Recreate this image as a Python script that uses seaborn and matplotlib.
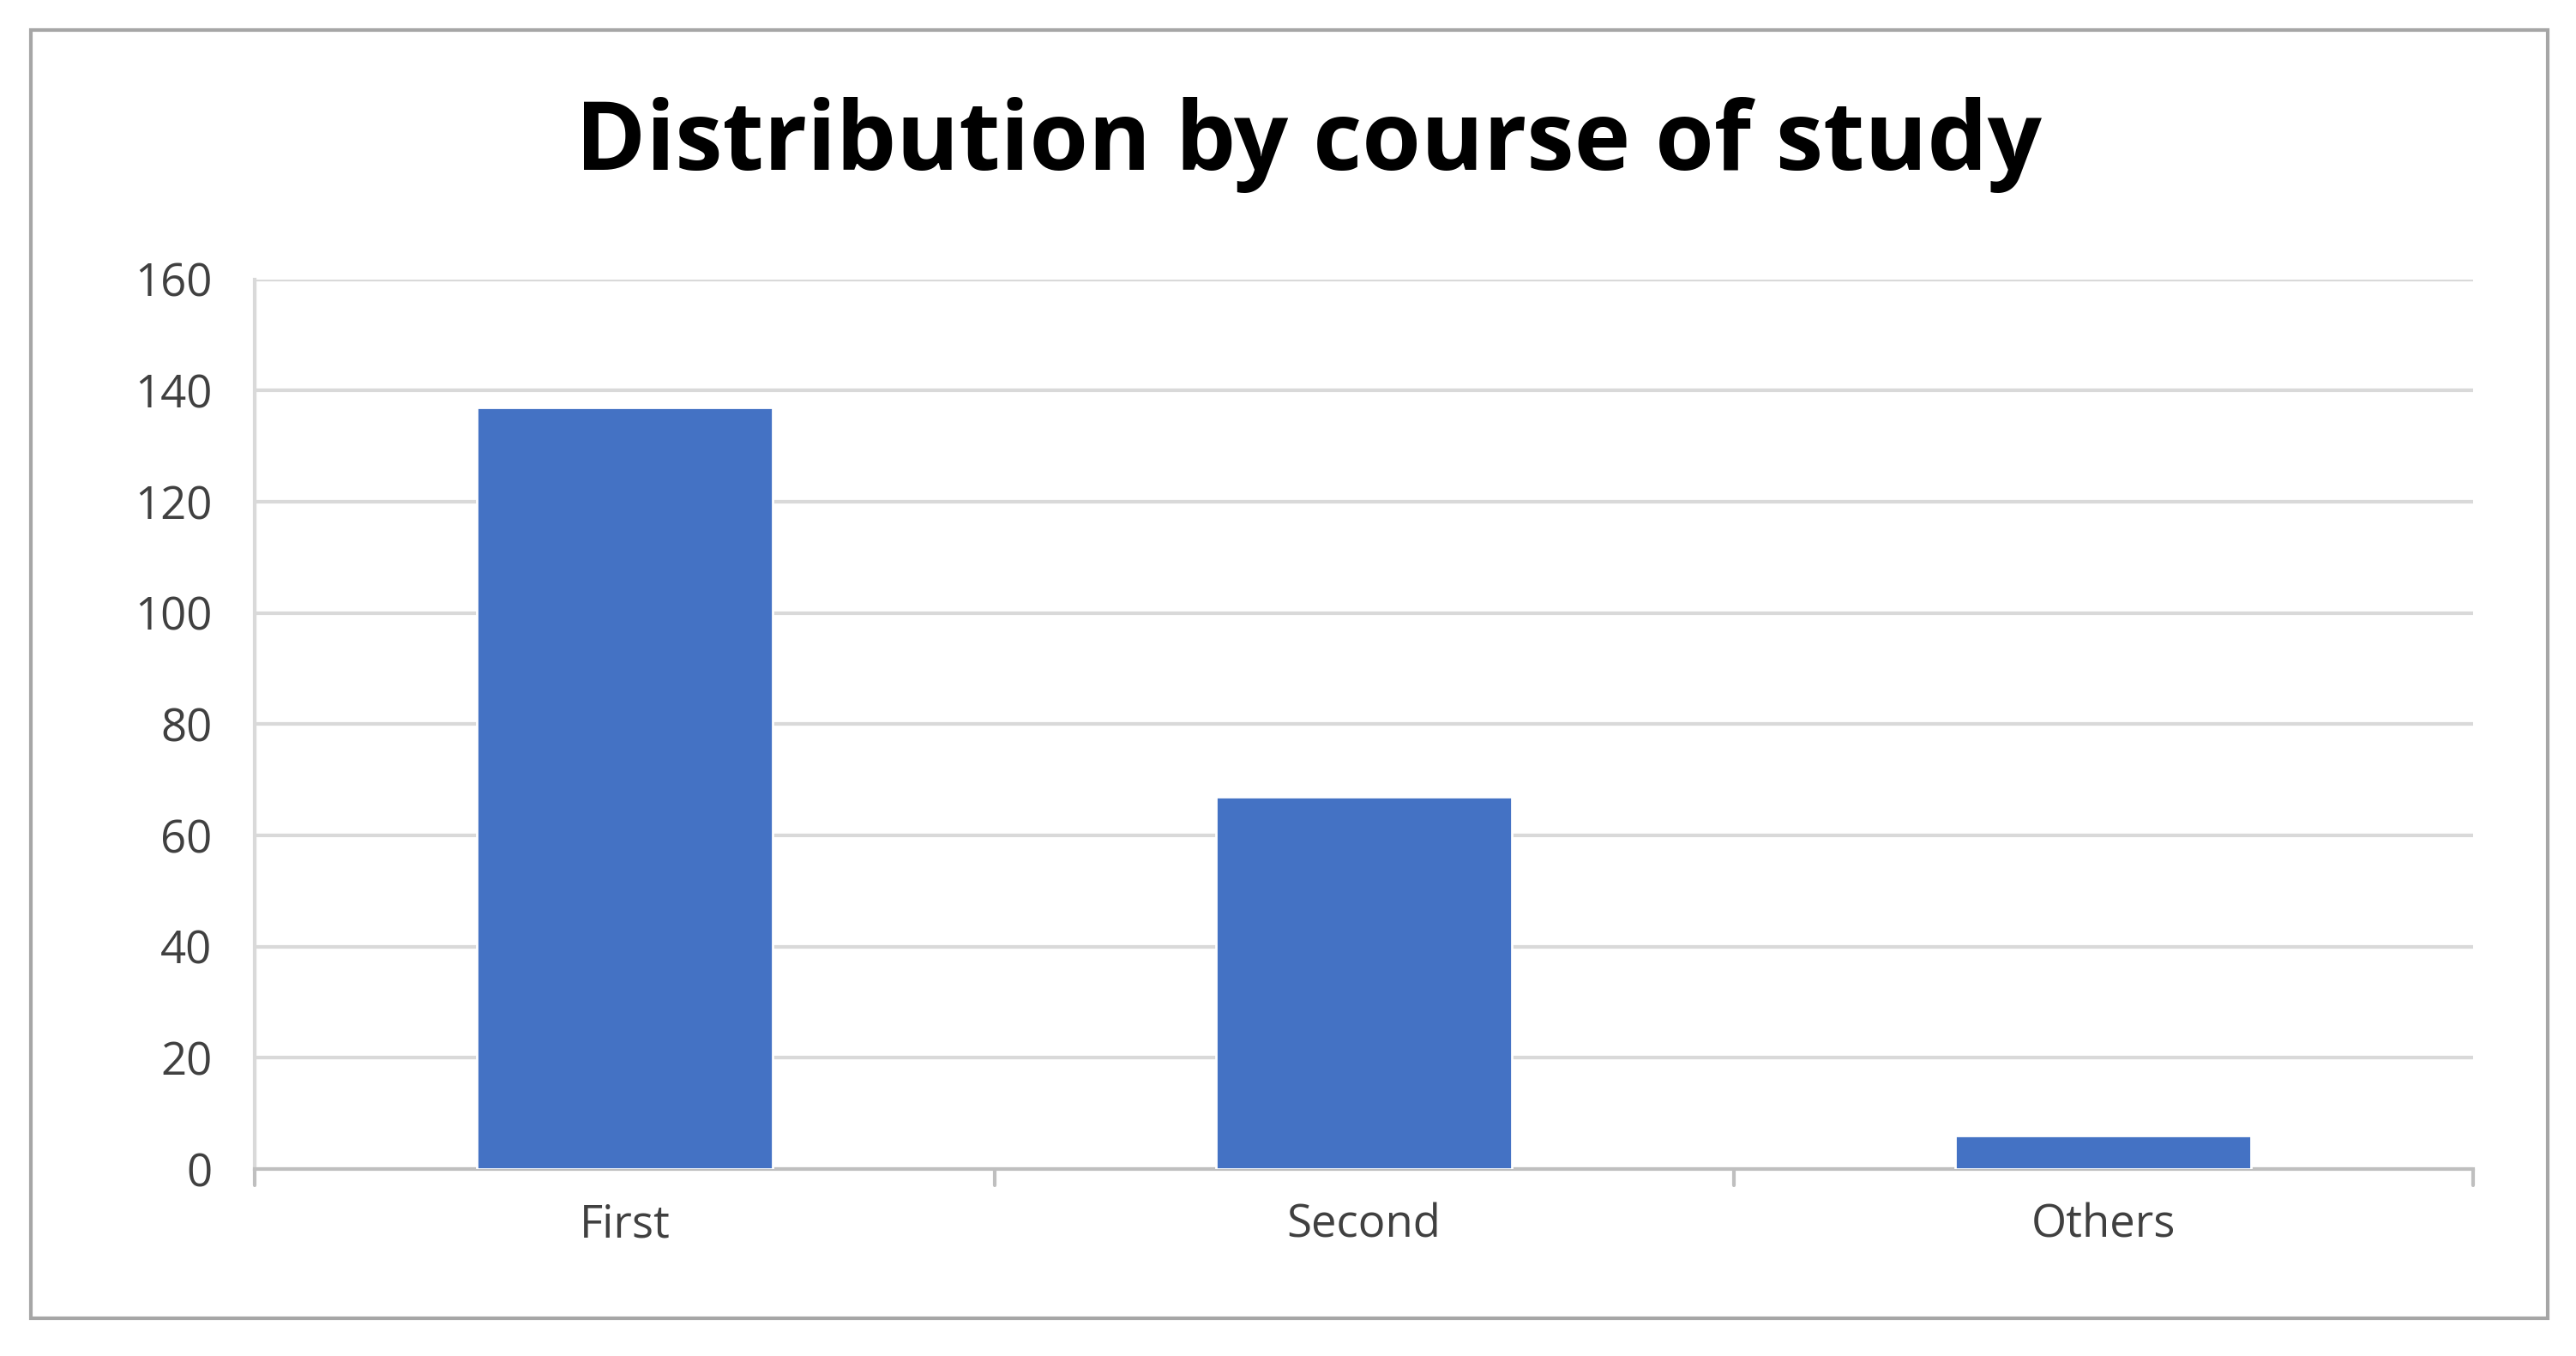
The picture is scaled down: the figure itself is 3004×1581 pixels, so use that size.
import matplotlib
matplotlib.use("Agg")
import matplotlib.pyplot as plt
import seaborn as sns
import pandas as pd
from matplotlib.patches import Rectangle

categories = ["First", "Second", "Others"]
values = [137, 67, 6]
yticks = [0, 20, 40, 60, 80, 100, 120, 140, 160]

sns.set_theme(style="white")
plt.rcParams['font.family'] = ['Open Sans', 'DejaVu Sans']

fig = plt.figure(figsize=(15.02, 7.905), dpi=200)
ax = fig.add_axes([0.099, 0.138, 0.861, 0.656])
df = pd.DataFrame({"cat": categories, "val": values})
sns.barplot(data=df, x="cat", y="val", color="#4472C4", saturation=1, width=0.4, ax=ax, zorder=3)
ax.set_ylim(0, 160)
ax.set_yticks(yticks)
ax.set_xlim(-0.5, 2.5)
ax.yaxis.grid(True, color="#d9d9d9", linewidth=1.5, zorder=0)
ax.set_xlabel("")
ax.set_ylabel("")
for s in ["top", "right"]:
    ax.spines[s].set_visible(False)
ax.spines["left"].set_color("#d9d9d9")
ax.spines["bottom"].set_color("#bfbfbf")
ax.spines["left"].set_linewidth(1.5)
ax.spines["bottom"].set_linewidth(1.5)
ax.tick_params(axis="y", labelsize=19, colors="#404040", length=10, width=1.5, color="#bfbfbf", pad=8)
ax.tick_params(axis="x", labelsize=19, colors="#404040", length=0, pad=14)
for xv in [-0.5, 0.5, 1.5, 2.5]:
    ax.plot([xv, xv], [0, -3], color="#bfbfbf", lw=1.5, clip_on=False)
ax.plot([-0.5, -0.5], [0, 160], color="#d9d9d9", lw=1.5)
fig.text(0.508, 0.893, "Distribution by course of study", ha="center", va="center",
         fontsize=40, fontweight="bold", color="black")
fig.patches.append(Rectangle((0.012, 0.028), 0.977, 0.95, transform=fig.transFigure,
                             fill=False, edgecolor="#a6a6a6", linewidth=1.5))
fig.savefig("out.png", dpi=200)
